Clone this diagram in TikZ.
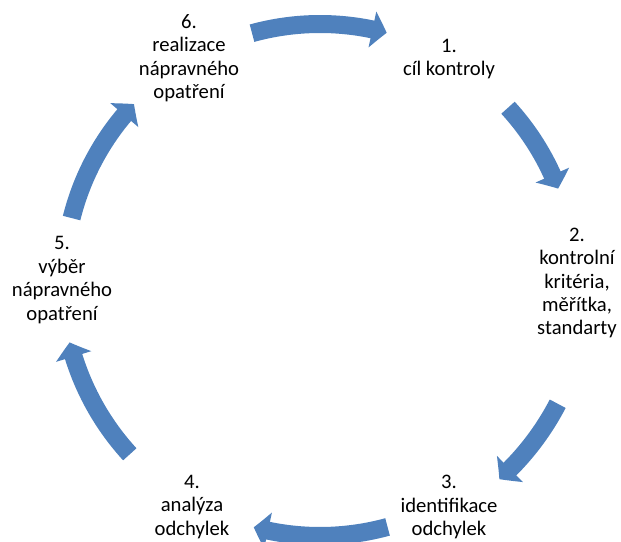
\documentclass[tikz,border=0pt]{standalone}
\usepackage{fontspec}
\setmainfont{Carlito}
\usetikzlibrary{arrows.meta,bending}
\definecolor{arrowblue}{HTML}{4F81BD}
\tikzset{
    stagetext/.style={align=center, inner sep=0pt, text=black,
        font=\fontsize{15.5pt}{17.6pt}\selectfont},
    cyclearrow/.style={draw=arrowblue, line width=13.5pt,
        -{Triangle[width=27pt,length=11pt,bend]}}
}
\begin{document}
\begin{tikzpicture}[x=0.75pt, y=0.75pt]
    \useasboundingbox (0,0) rectangle (621,542);
    % Centre of the cycle
    \coordinate (c) at (320,262);
    % Draw stages
    \node[stagetext] (s1) at (449,483) {1.\\cíl kontroly};
    \node[stagetext] (s2) at (577,259) {2.\\kontrolní\\kritéria,\\měřítka,\\standarty};
    \node[stagetext] (s3) at (449,35) {3.\\identifikace\\odchylek};
    \node[stagetext] (s4) at (192,35) {4.\\analýza\\odchylek};
    \node[stagetext] (s5) at (62,262) {5.\\výběr\\nápravného\\opatření};
    \node[stagetext] (s6) at (189,484) {6.\\realizace\\nápravného\\opatření};
    % Draw arrows
    % 6 to 1
    \draw[cyclearrow] ([shift={(105.4:256)}]c) arc[start angle=105.4, end angle=74.9, radius=256];
    % 1 to 2
    \draw[cyclearrow] ([shift={(42.5:255)}]c) arc[start angle=42.5, end angle=21, radius=255];
    % 2 to 3
    \draw[cyclearrow] ([shift={(-27.5:268)}]c) arc[start angle=-27.5, end angle=-48, radius=268];
    % 3 to 4
    \draw[cyclearrow] ([shift={(-74.7:256)}]c) arc[start angle=-74.7, end angle=-105, radius=256];
    % 4 to 5
    \draw[cyclearrow] ([shift={(-137.5:258)}]c) arc[start angle=-137.5, end angle=-166, radius=258];
    % 5 to 6
    \draw[cyclearrow] ([shift={(166:256)}]c) arc[start angle=166, end angle=136.6, radius=256];
\end{tikzpicture}
\end{document}
